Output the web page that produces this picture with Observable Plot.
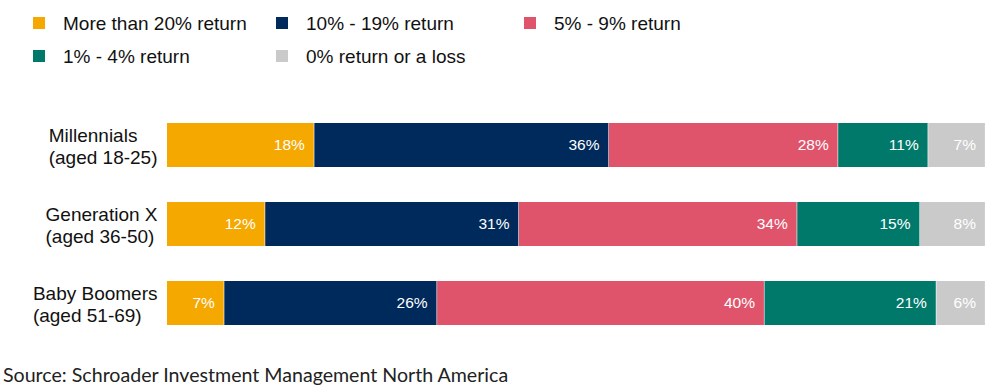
<!DOCTYPE html>
<html>
<head>
<meta charset="utf-8">
<script src="https://cdn.jsdelivr.net/npm/d3@7"></script>
<script src="https://cdn.jsdelivr.net/npm/@observablehq/plot@0.6"></script>
<style>
  html, body { margin: 0; padding: 0; background: #fff; }
  #wrap { position: relative; width: 1003px; height: 388px; overflow: hidden; }
  #legend { position: relative; width: 1003px; height: 100px; font-family: 'Liberation Sans', Arial, sans-serif; font-size: 19px; color: #111; }
  .sw { position: absolute; width: 12px; height: 12px; }
  .lt { position: absolute; line-height: 22px; white-space: nowrap; }
  #chart { position: relative; height: 250px; }
  #chart svg { display: block; }
  #caption { position: absolute; left: 3px; top: 365px; font-family: Lato, 'Open Sans', sans-serif; font-size: 19.6px; line-height: 20px; color: #222; white-space: nowrap; }
</style>
</head>
<body>
<div id="wrap">
  <div id="legend"></div>
  <div id="chart"></div>
  <div id="caption">Source: Schroader Investment Management North America</div>
</div>
<script>
// ---- data ----
const groupNames = ["Millennials", "Generation X", "Baby Boomers"];
const groupAges = ["(aged 18-25)", "(aged 36-50)", "(aged 51-69)"];
const categories = ["More than 20% return", "10% - 19% return", "5% - 9% return", "1% - 4% return", "0% return or a loss"];
const colors = ["#F5A800", "#002A5C", "#E0546B", "#00796B", "#CACACA"];
const more20 = [18, 12, 7];
const r10to19 = [36, 31, 26];
const r5to9 = [28, 34, 40];
const r1to4 = [11, 15, 21];
const r0orLoss = [7, 8, 6];

const series = [more20, r10to19, r5to9, r1to4, r0orLoss];
const data = [];
groupNames.forEach((g, i) => {
  categories.forEach((c, j) => {
    data.push({group: g, category: c, value: series[j][i]});
  });
});

// ---- legend (HTML) ----
const legend = document.getElementById("legend");
const legendPos = [
  {x: 33, row: 0}, {x: 276, row: 0}, {x: 524, row: 0},
  {x: 33, row: 1}, {x: 276, row: 1}
];
categories.forEach((c, j) => {
  const p = legendPos[j];
  const sw = document.createElement("div");
  sw.className = "sw";
  sw.style.left = p.x + "px";
  sw.style.top = (17 + p.row * 33) + "px";
  sw.style.background = colors[j];
  legend.appendChild(sw);
  const t = document.createElement("div");
  t.className = "lt";
  t.style.left = (p.x + 30) + "px";
  t.style.top = (13 + p.row * 33) + "px";
  t.textContent = c;
  legend.appendChild(t);
});

// ---- measure y labels ----
const canvas = document.createElement("canvas");
const ctx = canvas.getContext("2d");
ctx.font = "19px 'Liberation Sans', Arial, sans-serif";
const labelWidths = groupNames.map((g, i) => Math.max(ctx.measureText(g).width, ctx.measureText(groupAges[i]).width));

const font = "'Liberation Sans', Arial, sans-serif";

const yLabelMarks = groupNames.map((g, i) =>
  Plot.text([{group: g, label: g + "\n" + groupAges[i]}], {
    x: () => 0,
    y: "group",
    text: "label",
    textAnchor: "start",
    lineAnchor: "middle",
    lineHeight: 22 / 19,
    dx: -10 - labelWidths[i],
    fontSize: 19,
    fill: "#111"
  })
);

const chart = Plot.plot({
  width: 1003,
  height: 250,
  marginLeft: 167,
  marginRight: 17.5,
  marginTop: 0,
  marginBottom: 0,
  style: {fontFamily: font, background: "transparent"},
  x: {domain: [0, 100], axis: null},
  y: {domain: groupNames, range: [23, 225], paddingInner: 35 / 79, paddingOuter: 0, axis: null},
  color: {domain: categories, range: colors},
  marks: [
    Plot.barX(data, {
      x: "value",
      y: "group",
      fill: "category",
      order: categories,
      insetRight: 0.6
    }),
    Plot.text(data, Plot.stackX2({
      x: "value",
      y: "group",
      z: "category",
      order: categories,
      text: d => d.value + "%",
      textAnchor: "end",
      dx: -10,
      fill: "white",
      fontSize: 15.5
    })),
    ...yLabelMarks
  ]
});
document.getElementById("chart").appendChild(chart);
</script>
</body>
</html>
